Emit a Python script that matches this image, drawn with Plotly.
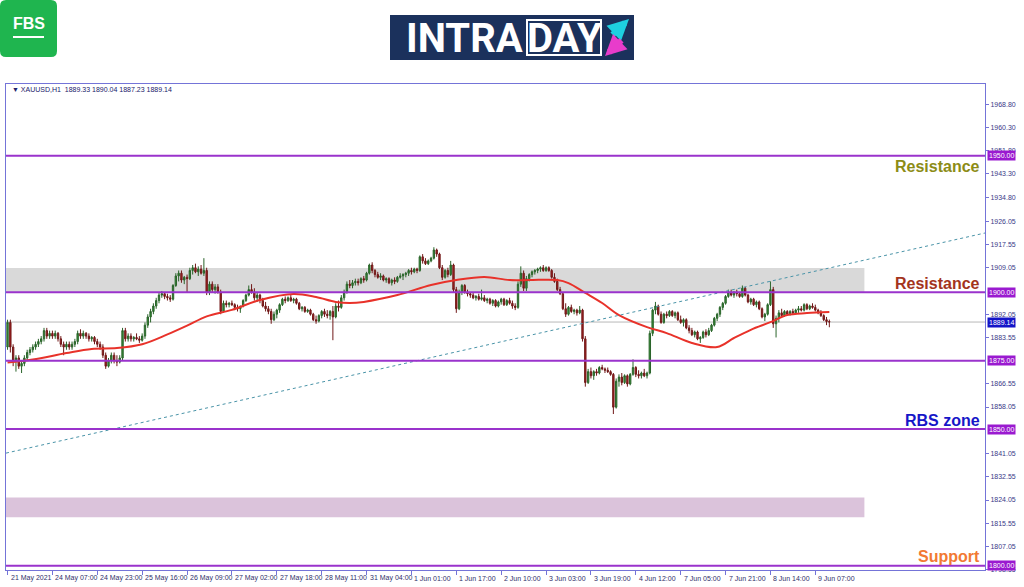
import plotly.graph_objects as go

# ---------------- data ----------------
opens = [
 1880,1889,1880,1875,1876,1873,1874,1876,1878,1879,
 1880,1881,1882,1883,1886,1884,1885,1884,1885,1883,
 1881,1880,1881,1880,1881,1882,1885,1884,1885,1884,
 1883,1883.5,1882,1881,1880,1877,1873,1875,1877,1875,
 1874.5,1876,1886,1883,1884,1883,1883.5,1883,1882.5,1884,
 1888,1891,1893,1895,1897,1899,1899.5,1898.5,1898,1897.5,
 1902.5,1906,1907,1904.5,1905.5,1905,1908,1909,1907.5,1908.5,
 1907,1908,1900,1903,1901,1902,1900,1893,1896,1895.5,
 1896,1895.5,1894.5,1894,1895,1897,1899,1901,1900,1898,
 1899,1897,1895,1894,1893,1890,1892,1893.5,1895.5,1897.5,
 1897,1898,1897,1897.5,1896,1894,1894.5,1893,1893.5,1892,
 1890,1889.5,1891.5,1893,1892,1891.5,1893,1891,1895,1894.5,
 1898,1900,1903,1902.5,1903.5,1904,1903.5,1905,1904.5,1907,
 1910,1908,1906.5,1905.5,1906,1904.5,1905,1903.5,1904.5,1904,
 1905.5,1906,1906.5,1907,1908,1907.5,1908.5,1908,1913,1911.5,
 1910.5,1911.5,1912.5,1915.5,1914,1909,1905.5,1908,1906.5,1910,
 1901,1894,1900,1902.5,1900,1899.5,1899,1898,1898.5,1897.5,
 1898,1897,1897.5,1896,1897,1895,1896.5,1897.5,1895.5,1897,
 1896,1895,1894.5,1903,1907,1901.5,1905,1906.5,1907.5,1908,
 1908.5,1909,1908,1909,1908,1905.5,1904,1901,1899.5,1894,
 1892,1894.5,1893,1893.5,1892.5,1893.5,1883,1867,1871,1869.5,
 1871,1870.5,1872.5,1872,1871.5,1871,1870,1858,1867.5,1869,
 1867,1869.5,1866.5,1870,1872.5,1870,1869.5,1870.5,1869.5,1870.5,
 1885,1893.5,1895,1892,1889,1892,1891.5,1893,1891.5,1892.5,
 1890,1889,1890,1887,1886,1884.5,1885.5,1883,1883.5,1885.5,
 1884.5,1886,1888,1890.5,1892,1894.5,1896,1898.5,1900,1899,
 1900,1899.5,1898.5,1901.5,1899,1896.5,1897.5,1895.5,1896.5,1894,
 1891,1892,1895.5,1901,1888.5,1890.5,1892.5,1891.5,1893,1892,
 1893,1892.5,1893.5,1894,1893.5,1895.5,1894,1895,1894.5,1893.5,
 1892.5,1891.5,1890,1889.33]
highs = [
 1890,1890,1881,1877,1877,1875,1877,1879,1880,1881,
 1882,1883,1884,1887,1887,1886,1886,1886,1885.5,1884,
 1882,1882,1882,1882,1883,1886,1886.5,1886,1885.5,1885,
 1884,1884,1883,1882,1881,1878,1876,1878,1878,1877,
 1877,1887,1887,1885,1885,1884,1885,1884,1885,1889,
 1892,1894,1896,1898,1900,1900.5,1900,1899.5,1899,1903,
 1907,1908,1908,1906,1906.5,1909,1910,1910.5,1909.5,1910,
 1912.5,1909,1904,1904,1903,1903,1901,1897,1897,1896.5,
 1897,1896,1895.5,1895,1897.5,1899.5,1902.5,1903,1901.5,1900,
 1899.5,1898,1896.5,1895,1894,1893,1894,1896,1898,1898.5,
 1898.5,1899,1898,1898,1896.5,1895,1895,1894,1894,1892.5,
 1891.5,1892,1893.5,1894,1893.5,1893.5,1895,1896,1897,1899,
 1901,1904,1904.5,1904.5,1905,1905,1905.5,1906,1907.5,1910.5,
 1911,1908.5,1907.5,1907,1906.5,1905.5,1905.5,1905,1905.5,1906,
 1907,1907,1907.5,1908.5,1909,1909,1909,1913.5,1914,1912.5,
 1912,1913,1916.5,1916,1914.5,1910,1908.5,1909,1911.5,1910.5,
 1902,1901,1903,1903,1901,1900,1900,1899,1899.5,1901,
 1899,1898,1898,1897.5,1897.5,1897,1898,1898,1897.5,1898,
 1897,1896,1904,1909.5,1908,1906,1907,1908,1908.5,1909,
 1909.5,1910,1909.5,1909.5,1908.5,1907,1905,1902,1900,1896,
 1895,1895.5,1894,1894,1895,1894,1884,1872,1872.5,1871.5,
 1872,1873,1873.5,1872.5,1872.5,1871.5,1870.5,1868.5,1870,1870.5,
 1870,1870,1870.5,1875.5,1873,1871.5,1871,1872,1871,1886,
 1894,1896.5,1895.5,1893,1892.5,1893,1893.5,1893.5,1893,1893,
 1891.5,1890.5,1890.5,1888,1887,1886,1886,1884,1886,1886.5,
 1887,1888.5,1891,1892.5,1895,1896.5,1899,1901,1901,1900.5,
 1901,1900,1902.5,1902,1899.5,1898,1898,1897,1897,1894.5,
 1892.5,1896,1904,1902,1891.5,1893.5,1894,1893.5,1893.5,1893.5,
 1894,1894,1895,1895,1896,1896,1895.5,1896,1895.5,1894,
 1893.5,1892,1891,1890.04]
lows = [
 1879,1878,1873,1871,1872,1870.5,1873,1875,1877,1878,
 1879,1880,1881,1882,1883,1883,1883,1883,1882,1880,
 1877,1879,1879,1879,1880,1881,1883,1883,1883,1882,
 1882,1881,1880,1879,1876,1872,1872.5,1874,1874,1873,
 1874,1875,1882,1882,1882,1882,1882.5,1881.5,1882,1883,
 1887,1889,1892,1894,1896,1898,1897.5,1897,1896.5,1897,
 1902,1904,1903.5,1903,1900,1904.5,1906.5,1907,1906,1906.5,
 1906,1899,1899,1900,1899.5,1899.5,1892,1892.5,1894.5,1894.5,
 1895,1893.5,1893,1892.5,1894.5,1896.5,1898.5,1899.5,1897,1896.5,
 1896,1894.5,1893,1892,1888.5,1889.5,1890.5,1892.5,1895,1896,
 1896.5,1896.5,1896,1895.5,1893.5,1893,1892.5,1892.5,1891.5,1889.5,
 1888.5,1889,1890.5,1891,1890.5,1890,1882.5,1890.5,1893,1894,
 1897,1899.5,1901.5,1901.5,1902.5,1902.5,1903,1903.5,1904,1906.5,
 1907,1905.5,1905,1904.5,1904,1903.5,1903,1902.5,1903,1903.5,
 1905,1904.5,1905.5,1906,1906.5,1907,1907,1907.5,1910.5,1910,
 1910,1911,1912,1913,1908.5,1904.5,1905,1905.5,1906,1900,
 1892.5,1893.5,1899,1899.5,1898.5,1898,1897.5,1897,1897,1897,
 1896.5,1896,1895.5,1895,1894.5,1894.5,1895.5,1895,1895,1895.5,
 1894,1893.5,1894,1902,1900.5,1900.5,1904,1905.5,1906.5,1907,
 1907.5,1907.5,1907.5,1907.5,1905,1903.5,1900.5,1899,1893.5,1891,
 1891.5,1892.5,1892,1891.5,1892,1882,1865.5,1866.5,1868.5,1868,
 1869.5,1870,1871.5,1870.5,1870.5,1869.5,1855.5,1857.5,1865.5,1866,
 1866.5,1865.5,1866,1869.5,1869,1868.5,1868.5,1869,1868.5,1870,
 1884,1892,1891.5,1888.5,1888.5,1890.5,1891,1891,1890.5,1889.5,
 1888.5,1887.5,1886.5,1885,1884,1883.5,1882.5,1881.5,1883,1883.5,
 1884,1885.5,1887.5,1889.5,1891,1893.5,1895.5,1898,1898.5,1898,
 1898.5,1898,1898,1898.5,1896,1895.5,1895,1894.5,1893.5,1890.5,
 1889.5,1891.5,1895,1887,1883.5,1889,1891,1891,1891.5,1891.5,
 1892,1892,1892.5,1893,1893,1893.5,1893.5,1894,1893,1892,
 1891,1889.5,1888,1887.23]
closes = [
 1889,1880,1875,1876,1873,1874,1876,1878,1879,1880,
 1881,1882,1883,1886,1884,1885,1884,1885,1883,1881,
 1880,1881,1880,1881,1882,1885,1884,1885,1884,1883,
 1883.5,1882,1881,1880,1877,1873,1875,1877,1875,1874.5,
 1876,1886,1883,1884,1883,1883.5,1883,1882.5,1884,1888,
 1891,1893,1895,1897,1899,1899.5,1898.5,1898,1897.5,1902.5,
 1906,1907,1904.5,1905.5,1905,1908,1909,1907.5,1908.5,1907,
 1908,1900,1903,1901,1902,1900,1893,1896,1895.5,1896,
 1895.5,1894.5,1894,1895,1897,1899,1901,1900,1898,1899,
 1897,1895,1894,1893,1890,1892,1893.5,1895.5,1897.5,1897,
 1898,1897,1897.5,1896,1894,1894.5,1893,1893.5,1892,1890,
 1889.5,1891.5,1893,1892,1891.5,1893,1891,1895,1894.5,1898,
 1900,1903,1902.5,1903.5,1904,1903.5,1905,1904.5,1907,1910,
 1908,1906.5,1905.5,1906,1904.5,1905,1903.5,1904.5,1904,1905.5,
 1906,1906.5,1907,1908,1907.5,1908.5,1908,1913,1911.5,1910.5,
 1911.5,1912.5,1915.5,1914,1909,1905.5,1908,1906.5,1910,1901,
 1894,1900,1902.5,1900,1899.5,1899,1898,1898.5,1897.5,1898,
 1897,1897.5,1896,1897,1895,1896.5,1897.5,1895.5,1897,1896,
 1895,1894.5,1903,1907,1901.5,1905,1906.5,1907.5,1908,1908.5,
 1909,1908,1909,1908,1905.5,1904,1901,1899.5,1894,1892,
 1894.5,1893,1893.5,1892.5,1893.5,1883,1867,1871,1869.5,1871,
 1870.5,1872.5,1872,1871.5,1871,1870,1858,1867.5,1869,1867,
 1869.5,1866.5,1870,1872.5,1870,1869.5,1870.5,1869.5,1870.5,1885,
 1893.5,1895,1892,1889,1892,1891.5,1893,1891.5,1892.5,1890,
 1889,1890,1887,1886,1884.5,1885.5,1883,1883.5,1885.5,1884.5,
 1886,1888,1890.5,1892,1894.5,1896,1898.5,1900,1899,1900,
 1899.5,1898.5,1901.5,1899,1896.5,1897.5,1895.5,1896.5,1894,1891,
 1892,1895.5,1901,1888.5,1890.5,1892.5,1891.5,1893,1892,1893,
 1892.5,1893.5,1894,1893.5,1895.5,1894,1895,1894.5,1893.5,1892.5,
 1891.5,1890,1889.33,1889.14]

# moving average (bar index, price)
ma_idx = [0, 9, 21, 30, 39, 48, 57, 64, 71, 80, 90, 102, 110, 117, 122, 127, 139,
          151, 160, 170, 179, 186, 196, 200, 206, 212, 218, 228, 235, 244, 253,
          259, 265, 272, 278, 285, 293]
ma_val = [1874.3, 1875.4, 1877.8, 1879.3, 1879.6, 1881.0, 1884.6, 1887.8, 1891.2,
          1893.6, 1897.2, 1899.4, 1898.3, 1896.5, 1896.1, 1896.5, 1899.0, 1902.7,
          1904.5, 1905.6, 1904.5, 1904.5, 1904.5, 1903.4, 1899.8, 1896.1, 1891.7,
          1887.3, 1885.1, 1881.5, 1880.0, 1883.3, 1886.3, 1889.1, 1891.7, 1892.4,
          1892.8]

# time axis labels (every 16 hourly bars)
tick_idx = [0, 16, 32, 48, 64, 80, 96, 112, 128, 144, 160, 176, 192, 208, 224, 240, 256, 272, 288]
tick_labels = ["21 May 2021", "24 May 07:00", "24 May 23:00", "25 May 16:00", "26 May 09:00",
               "27 May 02:00", "27 May 18:00", "28 May 11:00", "31 May 04:00", "1 Jun 01:00",
               "1 Jun 17:00", "2 Jun 10:00", "3 Jun 03:00", "3 Jun 19:00", "4 Jun 12:00",
               "7 Jun 05:00", "7 Jun 21:00", "8 Jun 14:00", "9 Jun 07:00"]

# price axis labels
price_ticks = [1968.80, 1960.30, 1951.80, 1943.30, 1934.80, 1926.05, 1917.55, 1909.05,
               1892.05, 1883.55, 1866.55, 1858.05, 1841.05, 1832.55, 1824.05, 1815.55,
               1807.05, 1798.55]

# horizontal levels
levels = [1950, 1900, 1875, 1850, 1800]
current_price = 1889.14

# zones (price bottom, top) and the bar where they end
zone_gray = [1900.0, 1908.9]
zone_lavender = [1817.7, 1825.0]
zone_end_idx = 305.5

# trend line (bar index, price)
trend_x = [-0.55, 348.5]
trend_y = [1841.2, 1921.7]

zone_texts = ["Resistance", "Resistance", "RBS zone", "Support"]
header_text = "\u25bc XAUUSD,H1  1889.33 1890.04 1887.23 1889.14"

# ---------------- figure ----------------
x_idx = list(range(len(closes)))

ML, MR, MT, MB = 6, 39, 84, 17
W, H = 1024, 587
PW, PH = W - ML - MR, H - MT - MB


def px(x):
    return (x - ML) / PW


def py(y):
    return (H - MB - y) / PH


fig = go.Figure()

fig.add_trace(go.Candlestick(
    x=x_idx, open=opens, high=highs, low=lows, close=closes,
    increasing=dict(line=dict(color="#2a642a", width=1), fillcolor="#358f35"),
    decreasing=dict(line=dict(color="#701818", width=1), fillcolor="#a82020"),
    whiskerwidth=0, showlegend=False, hoverinfo="skip"))

fig.add_trace(go.Scatter(x=ma_idx, y=ma_val, mode="lines",
                         line=dict(color="#e8322a", width=2, shape="spline", smoothing=1.0),
                         showlegend=False, hoverinfo="skip"))

fig.add_trace(go.Scatter(x=trend_x, y=trend_y, mode="lines",
                         line=dict(color="#4a94a8", width=1, dash="dot"),
                         showlegend=False, hoverinfo="skip"))

shapes = []
shapes.append(dict(type="rect", xref="x", yref="y", x0=trend_x[0], x1=zone_end_idx,
                   y0=zone_gray[0], y1=zone_gray[1], fillcolor="#d9d9d9",
                   line=dict(width=0), layer="below"))
shapes.append(dict(type="rect", xref="x", yref="y", x0=trend_x[0], x1=zone_end_idx,
                   y0=zone_lavender[0], y1=zone_lavender[1], fillcolor="#dbc3db",
                   line=dict(width=0), layer="below"))
shapes.append(dict(type="line", xref="paper", yref="y", x0=0, x1=1,
                   y0=current_price, y1=current_price, line=dict(color="#b8b8b8", width=1),
                   layer="below"))
for lv in levels:
    shapes.append(dict(type="line", xref="paper", yref="y", x0=0, x1=1, y0=lv, y1=lv,
                       line=dict(color="#9a33cc", width=2)))


def rounded_rect(x0, y0, x1, y1, r):
    X0, X1 = px(x0), px(x1)
    Y0, Y1 = py(y0), py(y1)
    rx, ry = r / PW, r / PH
    return (f"M {X0+rx},{Y0} L {X1-rx},{Y0} Q {X1},{Y0} {X1},{Y0-ry} "
            f"L {X1},{Y1+ry} Q {X1},{Y1} {X1-rx},{Y1} L {X0+rx},{Y1} "
            f"Q {X0},{Y1} {X0},{Y1+ry} L {X0},{Y0-ry} Q {X0},{Y0} {X0+rx},{Y0} Z")


# FBS logo
shapes.append(dict(type="path", xref="paper", yref="paper", path=rounded_rect(0, 0, 57, 57, 6),
                   fillcolor="#1fb54f", line=dict(width=0)))
shapes.append(dict(type="line", xref="paper", yref="paper", x0=px(13), x1=px(44),
                   y0=py(37), y1=py(37), line=dict(color="white", width=2)))
# INTRADAY logo
shapes.append(dict(type="rect", xref="paper", yref="paper", x0=px(390), x1=px(634),
                   y0=py(15), y1=py(60), fillcolor="#1b315c", line=dict(width=0)))
shapes.append(dict(type="rect", xref="paper", yref="paper", x0=px(527), x1=px(601),
                   y0=py(20), y1=py(55), fillcolor="rgba(0,0,0,0)",
                   line=dict(color="white", width=2)))

annotations = []
annotations.append(dict(xref="paper", yref="paper", x=px(28.5), y=py(24), text="<b>FBS</b>",
                        showarrow=False, font=dict(family="Liberation Sans", size=16, color="white"),
                        xanchor="center", yanchor="middle"))
annotations.append(dict(xref="paper", yref="paper", x=px(525), y=py(38), text="<b>INTRA</b>",
                        showarrow=False, font=dict(family="Liberation Sans Narrow, Roboto", size=40, color="white"),
                        xanchor="right", yanchor="middle"))
annotations.append(dict(xref="paper", yref="paper", x=px(564), y=py(38), text="<b>DAY</b>",
                        showarrow=False, font=dict(family="Liberation Sans Narrow, Roboto", size=40, color="white"),
                        xanchor="center", yanchor="middle"))
annotations.append(dict(xref="paper", yref="paper", x=px(629), y=py(19), ax=-18, ay=17,
                        axref="pixel", ayref="pixel", text="", showarrow=True, arrowhead=2,
                        arrowsize=0.7, arrowwidth=6, arrowcolor="#1ecfe0"))
annotations.append(dict(xref="paper", yref="paper", x=px(605), y=py(56), ax=18, ay=-17,
                        axref="pixel", ayref="pixel", text="", showarrow=True, arrowhead=2,
                        arrowsize=0.7, arrowwidth=6, arrowcolor="#e83ccb"))
annotations.append(dict(xref="paper", yref="paper", x=px(10), y=py(89), text=header_text,
                        showarrow=False, font=dict(family="Liberation Sans", size=7, color="#20206a"),
                        xanchor="left", yanchor="middle"))
zone_colors = ["#8c8c16", "#a3341d", "#1616c8", "#f27a33"]
zone_ypix = [166, 283, 420, 556]
for t, c, yy in zip(zone_texts, zone_colors, zone_ypix):
    annotations.append(dict(xref="paper", yref="paper", x=px(982), y=py(yy), text=f"<b>{t}</b>",
                            showarrow=False, font=dict(family="Liberation Sans", size=16, color=c),
                            xanchor="right", yanchor="middle"))
for lv in levels:
    annotations.append(dict(xref="paper", yref="y", x=1, y=lv, xshift=2, text=f"{lv:.2f}",
                            showarrow=False, font=dict(family="Liberation Sans", size=7, color="white"),
                            bgcolor="#9a1ad0", xanchor="left", yanchor="middle", borderpad=1))
annotations.append(dict(xref="paper", yref="y", x=1, y=current_price, xshift=2,
                        text=f"{current_price:.2f}", showarrow=False,
                        font=dict(family="Liberation Sans", size=7, color="white"),
                        bgcolor="#1414c8", xanchor="left", yanchor="middle", borderpad=1))
for ti, tl in zip(tick_idx, tick_labels):
    annotations.append(dict(xref="x", yref="paper", x=ti, y=py(578), xshift=1, text=tl,
                            showarrow=False, font=dict(family="Liberation Sans", size=7, color="#30306a"),
                            xanchor="left", yanchor="middle"))

fig.update_layout(
    width=W, height=H,
    margin=dict(l=ML, r=MR, t=MT, b=MB, pad=0),
    paper_bgcolor="white", plot_bgcolor="white",
    shapes=shapes, annotations=annotations,
    showlegend=False,
    xaxis=dict(range=[trend_x[0], trend_x[1]], rangeslider=dict(visible=False),
               showgrid=False, zeroline=False, showline=True, mirror=True,
               linecolor="#7474d8", linewidth=1, tickvals=tick_idx, ticks="outside",
               ticklen=4, tickcolor="#7474d8", showticklabels=False, fixedrange=True),
    yaxis=dict(range=[1798.45, 1976.2], side="right", showgrid=False, zeroline=False,
               showline=True, mirror=True, linecolor="#7474d8", linewidth=1,
               tickvals=price_ticks, ticktext=[f"{v:.2f}" for v in price_ticks],
               ticks="outside", ticklen=3, tickcolor="#7474d8",
               tickfont=dict(family="Liberation Sans", size=7, color="#3a3a88"),
               fixedrange=True),
)

fig.write_html("out.html", config={"displayModeBar": False},
               post_script="document.body.style.margin='0px';document.body.style.overflow='hidden';")
